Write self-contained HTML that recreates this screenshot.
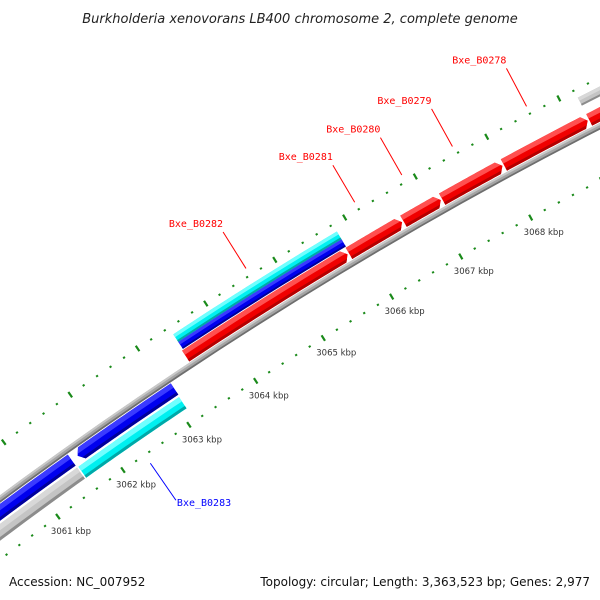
<!DOCTYPE html>
<html><head><meta charset="utf-8">
<style>
html,body{margin:0;padding:0;background:#fff;overflow:hidden;width:600px;height:600px;}
svg{display:block;font-family:"DejaVu Sans","Liberation Sans",sans-serif;}
</style></head>
<body>
<svg id="map" width="600" height="600" viewBox="0 0 600 600" xmlns="http://www.w3.org/2000/svg">
<rect width="600" height="600" fill="#fff"/>
<defs id="defs"></defs>
<g id="layer-ruler"></g>
<g id="layer-feat"></g>
<g id="layer-labels"></g>
<text x="300" y="23" text-anchor="middle" font-size="13" font-style="italic" fill="#222">Burkholderia xenovorans LB400 chromosome 2, complete genome</text>
<text x="9" y="586" font-size="12" fill="#111">Accession: NC_007952</text>
<text x="590" y="586" text-anchor="end" font-size="12" fill="#111">Topology: circular; Length: 3,363,523 bp; Genes: 2,977</text>
</svg>
<script>
// ---- data ----
const tickLabelKbp = [3061, 3062, 3063, 3064, 3065, 3066, 3067, 3068];
const featStart = [3063.44, 3065.82, 3066.60, 3067.15, 3068.02, 3069.21, 3063.46, 3063.46, 3069.21, 3058.5, 3061.64, 3061.57, 3058.5];
const featEnd   = [3065.80, 3066.58, 3067.13, 3068.00, 3069.19, 3071.0, 3065.83, 3065.83, 3071.0, 3061.55, 3063.10, 3063.09, 3061.55];
const featTrack = ["fwd","fwd","fwd","fwd","fwd","fwd","out1","out2","out2","rev","rev","in","in"];
const featColor = ["red","red","red","red","red","red","blue","cyan","gray","blue","blue","cyan","gray"];
const featArrow = ["end","end","end","end","end","end","none","none","none","none","start","none","none"];
const geneNames = ["Bxe_B0282","Bxe_B0281","Bxe_B0280","Bxe_B0279","Bxe_B0278","Bxe_B0283"];
const geneFeature = [7, 1, 2, 3, 4, 11];
const geneSide = ["out","out","out","out","out","in"];

// ---- geometry ----
const CX = 2562, CY = 3953;
const A0 = -121.77, DEG_PER_KBP = 1.0775, REF = 3065;
function P(kbp, r){
  const a = (A0 + (kbp - REF) * DEG_PER_KBP) * Math.PI / 180;
  return [CX + r * Math.cos(a), CY + r * Math.sin(a)];
}
const tracks = {fwd:[4304.5,4317.5], out1:[4318.5,4327], out2:[4327,4336], rev:[4283,4296.5], "in":[4267,4280.5]};
const palette = {
  red:{base:"#f00000", light:"#ff5050", dark:"#b40000"},
  blue:{base:"#0000ee", light:"#3a3aff", dark:"#00009a"},
  cyan:{base:"#00f0f0", light:"#70ffff", dark:"#00a8a8"},
  gray:{base:"#c4c4c4", light:"#d8d8d8", dark:"#8c8c8c"}
};
const NS = "http://www.w3.org/2000/svg";
function mk(tag, attrs, parent){
  const e = document.createElementNS(NS, tag);
  for (const k in attrs) e.setAttribute(k, attrs[k]);
  parent.appendChild(e); return e;
}
function fmt(p){ return p[0].toFixed(2) + "," + p[1].toFixed(2); }
function bandPts(a, b, r1, r2, arrow){
  const tip = 0.065, N = 24, pts = [];
  let s = a, e = b;
  if (arrow === "end") e = b - tip;
  if (arrow === "start") s = a + tip;
  for (let i = 0; i <= N; i++) pts.push(P(s + (e - s) * i / N, r2));
  if (arrow === "end") pts.push(P(b, (r1 + r2) / 2));
  for (let i = N; i >= 0; i--) pts.push(P(s + (e - s) * i / N, r1));
  if (arrow === "start") pts.push(P(a, (r1 + r2) / 2));
  return pts.map(fmt).join(" ");
}

const ruler = document.getElementById("layer-ruler");
const feat = document.getElementById("layer-feat");
const labels = document.getElementById("layer-labels");
const defs = document.getElementById("defs");

// backbone
const bb = mk("polygon", {points: bandPts(3058, 3072, 4297.5, 4303.5, "none"), fill:"#a4a4a4"}, feat);


const bbl = mk("polygon", {points: bandPts(3058, 3072, 4301.5, 4303.5, "none"), fill:"#c8c8c8"}, feat);


const bbd = mk("polygon", {points: bandPts(3058, 3072, 4297.5, 4299.2, "none"), fill:"#6e6e6e"}, feat);



// rulers
function drawRuler(r, name, withLabels){
  for (let i = 0; i <= 65; i++){
    const k = 3058 + i * 0.2;
    const major = Math.abs(k - Math.round(k)) < 1e-6;
    const len = major ? 6.5 : 2;
    const p1 = P(k, r - len / 2), p2 = P(k, r + len / 2);
    const t = mk("line", {x1:p1[0], y1:p1[1], x2:p2[0], y2:p2[1], stroke:"#1a8a1a", "stroke-width":"2.2"}, ruler);
    
    
  }
  if (withLabels){
    tickLabelKbp.forEach(k => {
      const p = P(k, r);
      const tx = mk("text", {x:p[0] - 7, y:p[1] + 17.5, "font-size":"8.5", fill:"#333"}, ruler);
      tx.textContent = k + " kbp";
      
      
    });
  }
}
drawRuler(4252, "inner-ruler", true);
drawRuler(4344, "outer-ruler", false);

// features
featStart.forEach((s, i) => {
  const tr = tracks[featTrack[i]], col = palette[featColor[i]];
  const r1 = tr[0], r2 = tr[1], th = r2 - r1;
  const cp = mk("clipPath", {id:"clip" + i}, defs);
  mk("polygon", {points: bandPts(s, featEnd[i], r1, r2, featArrow[i])}, cp);
  const g = mk("g", {"clip-path":"url(#clip" + i + ")"}, feat);
  
  
  mk("polygon", {points: bandPts(s - 0.2, featEnd[i] + 0.2, r1 - 1, r2 + 1, "none"), fill: col.base}, g);
  mk("polygon", {points: bandPts(s - 0.2, featEnd[i] + 0.2, r2 - th * 0.38, r2 + 1, "none"), fill: col.light}, g);
  mk("polygon", {points: bandPts(s - 0.2, featEnd[i] + 0.2, r1 - 1, r1 + th * 0.22, "none"), fill: col.dark}, g);
});

// gene labels
geneNames.forEach((n, i) => {
  const f = geneFeature[i];
  const mid = (featStart[f] + featEnd[f]) / 2;
  const out = geneSide[i] === "out";
  const color = out ? "#ff0000" : "#0000ff";
  const pA = P(mid, out ? 4352 : 4242), pB = P(mid, out ? 4395 : 4197);
  const ln = mk("line", {x1:pA[0], y1:pA[1], x2:pB[0], y2:pB[1], stroke:color, "stroke-width":"1"}, labels);
  
  
  const t = mk("text", out ? {x:pB[0], y:pB[1] - 5, "text-anchor":"end"} : {x:pB[0] + 1, y:pB[1] + 6}, labels);
  t.setAttribute("font-size", "10");
  t.setAttribute("font-family", "DejaVu Sans Mono, Liberation Mono, monospace");
  t.setAttribute("fill", color);
  t.textContent = n;
  
  
});
</script>
</body></html>
